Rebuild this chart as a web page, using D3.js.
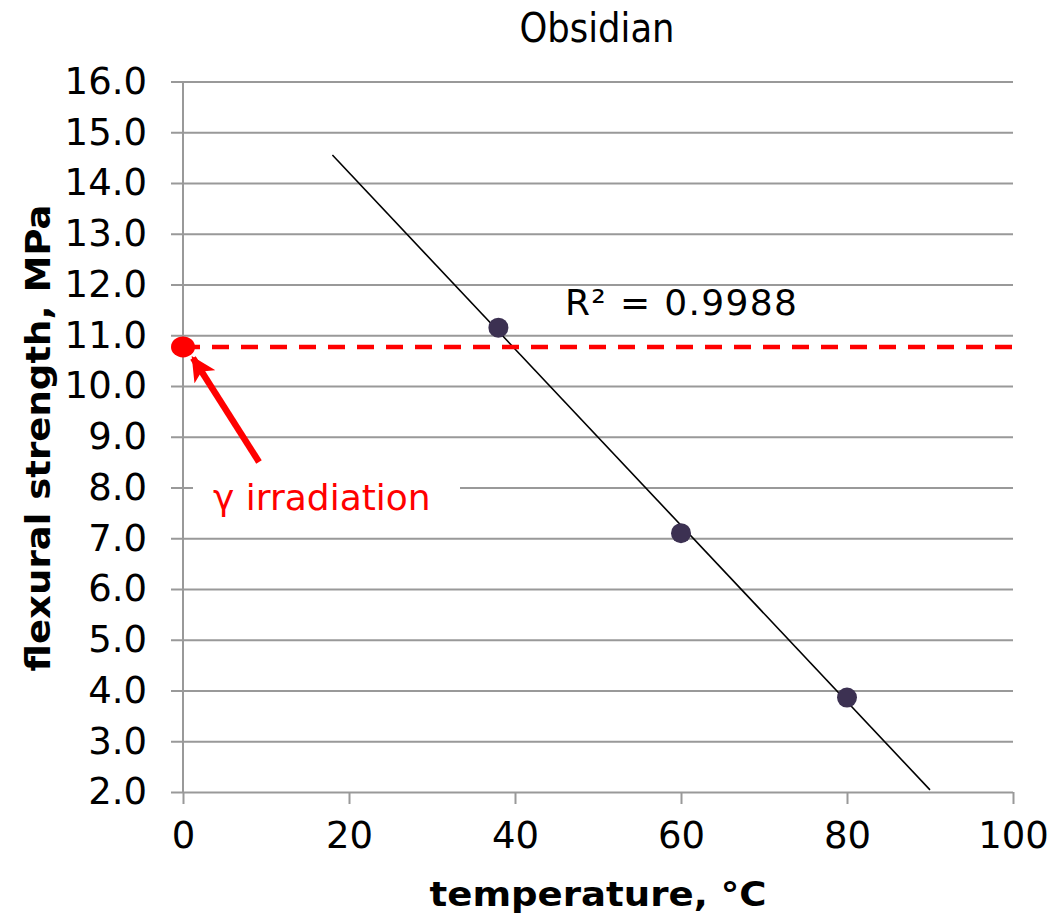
<!DOCTYPE html>
<html>
<head>
<meta charset="utf-8">
<script src="https://cdn.jsdelivr.net/npm/d3@7"></script>
<style>
	body { margin: 0; background: #fff; }
	svg { display: block; }
</style>
</head>
<body>
<svg id="chart"></svg>
<script>
// measured points (temperature, flexural strength)
const temperatures = [38, 60, 80]
const strengths = [11.15, 7.1, 3.86]
const irradiation = { x: 0, y: 10.77 }
const trendRange = [18, 90]
const xTicks = [0, 20, 40, 60, 80, 100]
const yTicks = [2, 3, 4, 5, 6, 7, 8, 9, 10, 11, 12, 13, 14, 15, 16]

const outerWidth = 1051
const outerHeight = 918
const margin = { top: 81.5, right: 38, bottom: 126, left: 183 }
const width = outerWidth - margin.left - margin.right
const height = outerHeight - margin.top - margin.bottom

const svg = d3.select('#chart')
	.attr('width', outerWidth)
	.attr('height', outerHeight)
	.style('font-family', 'DejaVu Sans, Verdana, sans-serif')

const g = svg.append('g')
	.attr('transform', `translate(${margin.left},${margin.top})`)

const xScale = d3.scaleLinear().domain([0, 100]).range([0, width])
const yScale = d3.scaleLinear().domain([2, 16]).range([height, 0])

const gridColor = '#999'

// horizontal grid lines + y ticks
const yAxis = d3.axisLeft(yScale)
	.tickValues(yTicks)
	.tickSize(-width)
	.tickPadding(36)
	.tickFormat(d3.format('.1f'))
const yAxisGroup = g.append('g').call(yAxis)
yAxisGroup.select('.domain').remove()
yAxisGroup.selectAll('.tick line')
	.attr('x1', -12)
	.attr('stroke', gridColor)
	.attr('stroke-width', 2)
yAxisGroup.selectAll('.tick text')
	.attr('font-size', 37)
	.attr('fill', '#000')
	.attr('font-family', 'DejaVu Sans, Verdana, sans-serif')

// x axis
const xAxis = d3.axisBottom(xScale)
	.tickValues(xTicks)
	.tickSize(12)
	.tickPadding(18)
const xAxisGroup = g.append('g')
	.attr('transform', `translate(0,${height})`)
	.call(xAxis)
xAxisGroup.select('.domain').remove()
xAxisGroup.selectAll('.tick line')
	.attr('stroke', gridColor)
	.attr('stroke-width', 2)
xAxisGroup.selectAll('.tick text')
	.attr('font-size', 37)
	.attr('fill', '#000')
	.attr('font-family', 'DejaVu Sans, Verdana, sans-serif')

// vertical axis line
g.append('line')
	.attr('x1', xScale(0)).attr('x2', xScale(0))
	.attr('y1', 0).attr('y2', height)
	.attr('stroke', gridColor)
	.attr('stroke-width', 2)

// linear trend line from least squares
const mx = d3.mean(temperatures)
const my = d3.mean(strengths)
let sxy = 0, sxx = 0
temperatures.forEach((t, i) => {
	sxy += (t - mx) * (strengths[i] - my)
	sxx += (t - mx) * (t - mx)
})
const slope = sxy / sxx
const intercept = my - slope * mx
const line = d3.line()
	.x(d => xScale(d))
	.y(d => yScale(intercept + slope * d))
g.append('path')
	.attr('d', line(trendRange))
	.attr('fill', 'none')
	.attr('stroke', '#000')
	.attr('stroke-width', 1.6)

// data points
g.selectAll('circle.pt')
	.data(temperatures)
	.join('circle')
	.attr('class', 'pt')
	.attr('cx', d => xScale(d))
	.attr('cy', (d, i) => yScale(strengths[i]))
	.attr('r', 10)
	.attr('fill', '#3c3152')

// R squared label
svg.append('text')
	.attr('x', 565)
	.attr('y', 315)
	.attr('font-size', 36)
	.attr('textLength', 232)
	.text('R² = 0.9988')

// red dashed reference level
g.append('line')
	.attr('x1', xScale(irradiation.x))
	.attr('x2', width)
	.attr('y1', yScale(irradiation.y))
	.attr('y2', yScale(irradiation.y))
	.attr('stroke', '#ff0000')
	.attr('stroke-width', 4.5)
	.attr('stroke-dasharray', '17,12')

g.append('ellipse')
	.attr('cx', xScale(irradiation.x))
	.attr('cy', yScale(irradiation.y))
	.attr('rx', 12)
	.attr('ry', 10.5)
	.attr('fill', '#ff0000')

// arrow pointing to the gamma point
svg.append('defs').append('marker')
	.attr('id', 'arrowhead')
	.attr('viewBox', '0 0 10 10')
	.attr('refX', 9)
	.attr('refY', 5)
	.attr('markerWidth', 3.8)
	.attr('markerHeight', 3.8)
	.attr('markerUnits', 'strokeWidth')
	.attr('orient', 'auto')
	.append('path')
	.attr('d', 'M0,0 L10,5 L0,10 L2.5,5 Z')
	.attr('fill', '#ff0000')

svg.append('line')
	.attr('x1', 259)
	.attr('y1', 462)
	.attr('x2', 193)
	.attr('y2', 358)
	.attr('stroke', '#ff0000')
	.attr('stroke-width', 6.5)
	.attr('marker-end', 'url(#arrowhead)')

// gamma label with white background
svg.append('rect')
	.attr('x', 193)
	.attr('y', 472)
	.attr('width', 267)
	.attr('height', 56)
	.attr('fill', '#fff')
svg.append('text')
	.attr('x', 213)
	.attr('y', 510)
	.attr('font-size', 36)
	.attr('fill', '#ff0000')
	.text('γ irradiation')

// title and axis labels
svg.append('text')
	.attr('x', 597)
	.attr('y', 42)
	.attr('text-anchor', 'middle')
	.attr('font-size', 40)
	.attr('textLength', 155)
	.attr('lengthAdjust', 'spacingAndGlyphs')
	.text('Obsidian')

svg.append('text')
	.attr('x', 598)
	.attr('y', 906)
	.attr('text-anchor', 'middle')
	.attr('font-size', 34)
	.attr('font-weight', 'bold')
	.attr('textLength', 337)
	.attr('lengthAdjust', 'spacingAndGlyphs')
	.text('temperature, °C')

svg.append('text')
	.attr('transform', 'translate(50,438) rotate(-90)')
	.attr('text-anchor', 'middle')
	.attr('font-size', 34)
	.attr('font-weight', 'bold')
	.attr('textLength', 467)
	.attr('lengthAdjust', 'spacingAndGlyphs')
	.text('flexural strength, MPa')
</script>
</body>
</html>
